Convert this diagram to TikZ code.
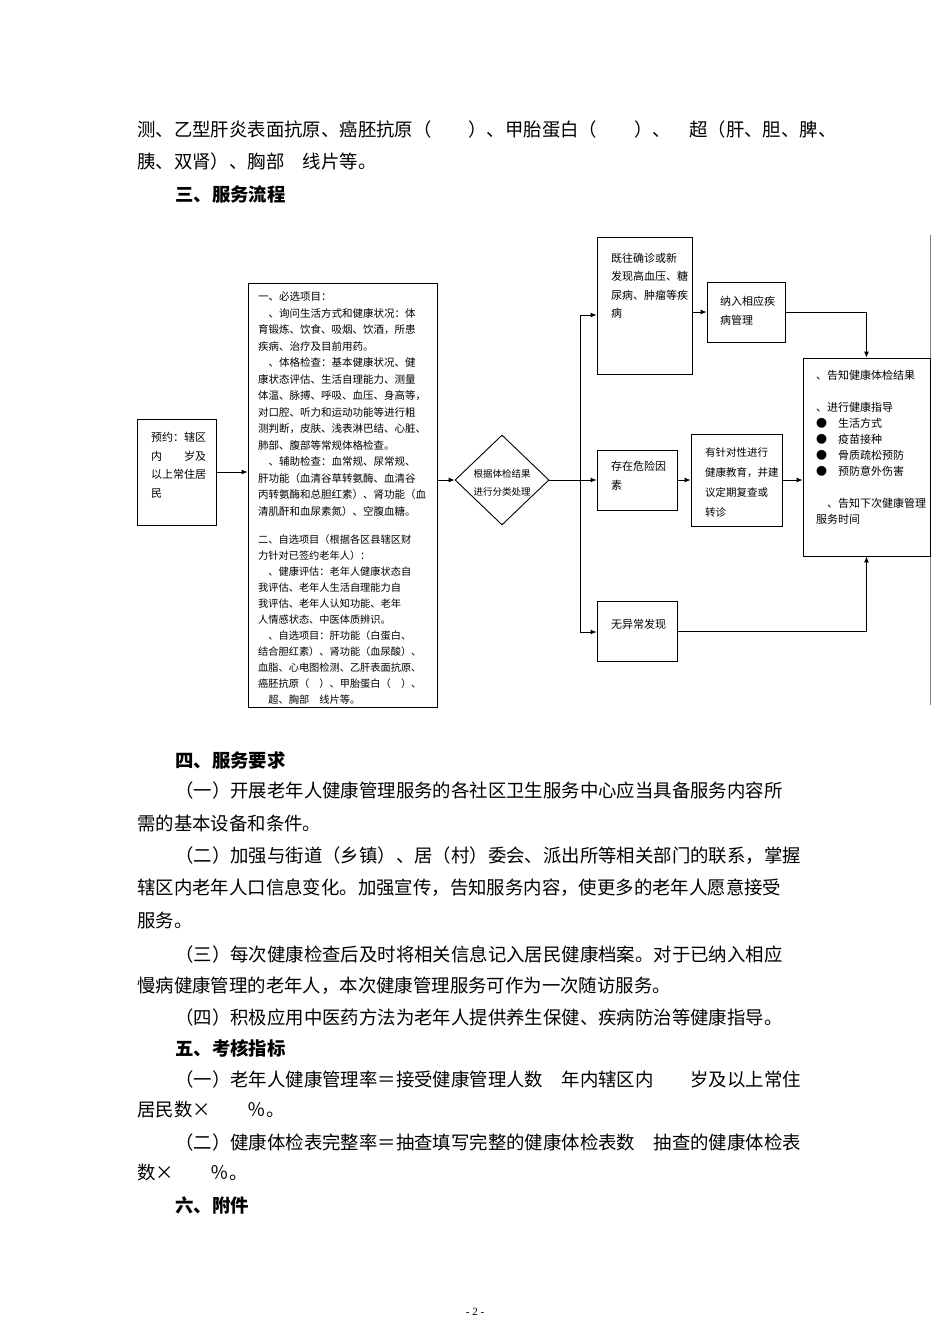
\documentclass[tikz,border=0pt]{standalone}
\usepackage{fontspec}
\setmainfont{Liberation Serif}
\newfontfamily\cjk{Noto Sans CJK SC}
\usetikzlibrary{arrows.meta,shapes.geometric}
\tikzset{
  box/.style={draw,line width=0.9pt,inner sep=0pt},
  arr/.style={line width=0.9pt,-{Latex[length=6pt,width=5pt]}},
  ln/.style={line width=0.9pt},
  body/.style={anchor=west,inner sep=0pt,font=\cjk\fontsize{18.4}{24}\selectfont},
  head/.style={body,font=\cjk\bfseries\fontsize{18.4}{24}\selectfont},
  small/.style={anchor=north west,inner sep=0pt,align=left},
}
\begin{document}
\begin{tikzpicture}[x=1pt,y=-1pt]
\useasboundingbox (0,0) rectangle (950,1344);
% page text
\node[body] (t1) at (137,130) {测、乙型肝炎表面抗原、癌胚抗原（　　）、甲胎蛋白（　　）、　超（肝、胆、脾、};
\node[body] (t2) at (137,162) {胰、双肾）、胸部　线片等。};
\node[head] (t3) at (175,194) {三、服务流程};
\node[head] (t4) at (175,760) {四、服务要求};
\node[body] (t5) at (175,790) {（一）开展老年人健康管理服务的各社区卫生服务中心应当具备服务内容所};
\node[body] (t6) at (137,823) {需的基本设备和条件。};
\node[body] (t7) at (175,856) {（二）加强与街道（乡镇）、居（村）委会、派出所等相关部门的联系，掌握};
\node[body] (t8) at (137,888) {辖区内老年人口信息变化。加强宣传，告知服务内容，使更多的老年人愿意接受};
\node[body] (t9) at (137,920) {服务。};
\node[body] (t10) at (175,954) {（三）每次健康检查后及时将相关信息记入居民健康档案。对于已纳入相应};
\node[body] (t11) at (137,986) {慢病健康管理的老年人，本次健康管理服务可作为一次随访服务。};
\node[body] (t12) at (175,1017) {（四）积极应用中医药方法为老年人提供养生保健、疾病防治等健康指导。};
\node[head] (t13) at (175,1048) {五、考核指标};
\node[body] (t14) at (175,1079) {（一）老年人健康管理率＝接受健康管理人数　年内辖区内　　岁及以上常住};
\node[body] (t15) at (137,1110) {居民数×　　％。};
\node[body] (t16) at (175,1142) {（二）健康体检表完整率＝抽查填写完整的健康体检表数　抽查的健康体检表};
\node[body] (t17) at (137,1173) {数×　　％。};
\node[head] (t18) at (175,1206) {六、附件};
\node[inner sep=0pt,font=\fontsize{11}{13}\selectfont] (pg) at (475,1312) {- 2 -};

% page edge line
\draw[gray,line width=0.8pt] (930,235) coordinate (e1) -- (930,705) coordinate (e2);

% boxes
\node[box,minimum width=79pt,minimum height=106pt] (yy) at (176.5,472) {};
\node[box,minimum width=189pt,minimum height=424pt] (big) at (342.5,495) {};
\node[draw,line width=0.9pt,diamond,minimum width=94pt,minimum height=90pt,inner sep=0pt] (dia) at (502,480) {};
\node[box,minimum width=95pt,minimum height=137pt] (jw) at (644.5,305.5) {};
\node[box,minimum width=78pt,minimum height=60pt] (nr) at (746,312) {};
\node[box,minimum width=127pt,minimum height=198pt] (gz) at (866.5,457) {};
\node[box,minimum width=80pt,minimum height=60pt] (wx) at (637,480) {};
\node[box,minimum width=91pt,minimum height=92pt] (yz) at (736.5,480) {};
\node[box,minimum width=80pt,minimum height=60pt] (wy) at (637,631) {};

% texts
\begin{scope}[font=\cjk\fontsize{11}{18.5}\selectfont]
\node[small] (yyt) at (151,432) {预约：辖区\\内　　岁及\\以上常住居\\民};
\node[small] (jwt) at (611,253) {既往确诊或新\\发现高血压、糖\\尿病、肿瘤等疾\\病};
\node[small] (nrt) at (720,296) {纳入相应疾\\病管理};
\node[small] (wxt) at (611,461) {存在危险因\\素};
\node[small,font=\cjk\fontsize{10.5}{20}\selectfont] (yzt) at (705,447) {有针对性进行\\健康教育，并建\\议定期复查或\\转诊};
\node[anchor=west,inner sep=0pt] (wyt) at (611,624) {无异常发现};
\end{scope}
\node[small,font=\cjk\fontsize{10.5}{16.5}\selectfont] (bt1) at (258,292) {一、必选项目：\\
　、询问生活方式和健康状况：体\\育锻炼、饮食、吸烟、饮酒，所患\\疾病、治疗及目前用药。\\
　、体格检查：基本健康状况、健\\康状态评估、生活自理能力、测量\\体温、脉搏、呼吸、血压、身高等，\\对口腔、听力和运动功能等进行粗\\测判断，皮肤、浅表淋巴结、心脏、\\肺部、腹部等常规体格检查。\\
　、辅助检查：血常规、尿常规、\\肝功能（血清谷草转氨酶、血清谷\\丙转氨酶和总胆红素）、肾功能（血\\清肌酐和血尿素氮）、空腹血糖。};
\node[small,font=\cjk\fontsize{10.2}{16}\selectfont] (bt2) at (258,535) {二、自选项目（根据各区县辖区财\\力针对已签约老年人）：\\
　、健康评估：老年人健康状态自\\我评估、老年人生活自理能力自\\我评估、老年人认知功能、老年\\人情感状态、中医体质辨识。\\
　、自选项目：肝功能（白蛋白、\\结合胆红素）、肾功能（血尿酸）、\\血脂、心电图检测、乙肝表面抗原、\\癌胚抗原（　）、甲胎蛋白（　）、\\　超、胸部　线片等。};
\node[align=center,inner sep=0pt,font=\cjk\fontsize{9.5}{18}\selectfont] (diat) at (502,483) {根据体检结果\\进行分类处理};
\node[small,font=\cjk\fontsize{11}{16}\selectfont] (gzt) at (816,370) {、告知健康体检结果\\[16pt]
、进行健康指导\\
●　生活方式\\●　疫苗接种\\●　骨质疏松预防\\●　预防意外伤害\\[16pt]
　、告知下次健康管理\\服务时间};

% connectors
\draw[arr] (yy.east) -- (big.west |- yy.east);
\draw[arr] (big.east |- dia.west) -- (dia.west);
\draw[arr] (dia.east) -- (wx.west);
\coordinate (b1) at (580,315);
\coordinate (b2) at (580,632);
\draw[ln] (b1) -- (b2);
\draw[arr] (b1) -- (jw.west |- b1);
\draw[arr] (b2) -- (wy.west |- b2);
\draw[arr] (jw.east |- nr.west) -- (nr.west);
\draw[arr] (nr.east) -| (gz.north);
\draw[arr] (wx.east) -- (yz.west);
\draw[arr] (yz.east) -- (gz.west |- yz.east);
\draw[arr] (wy.east) -| (gz.south);
\end{tikzpicture}
\end{document}
